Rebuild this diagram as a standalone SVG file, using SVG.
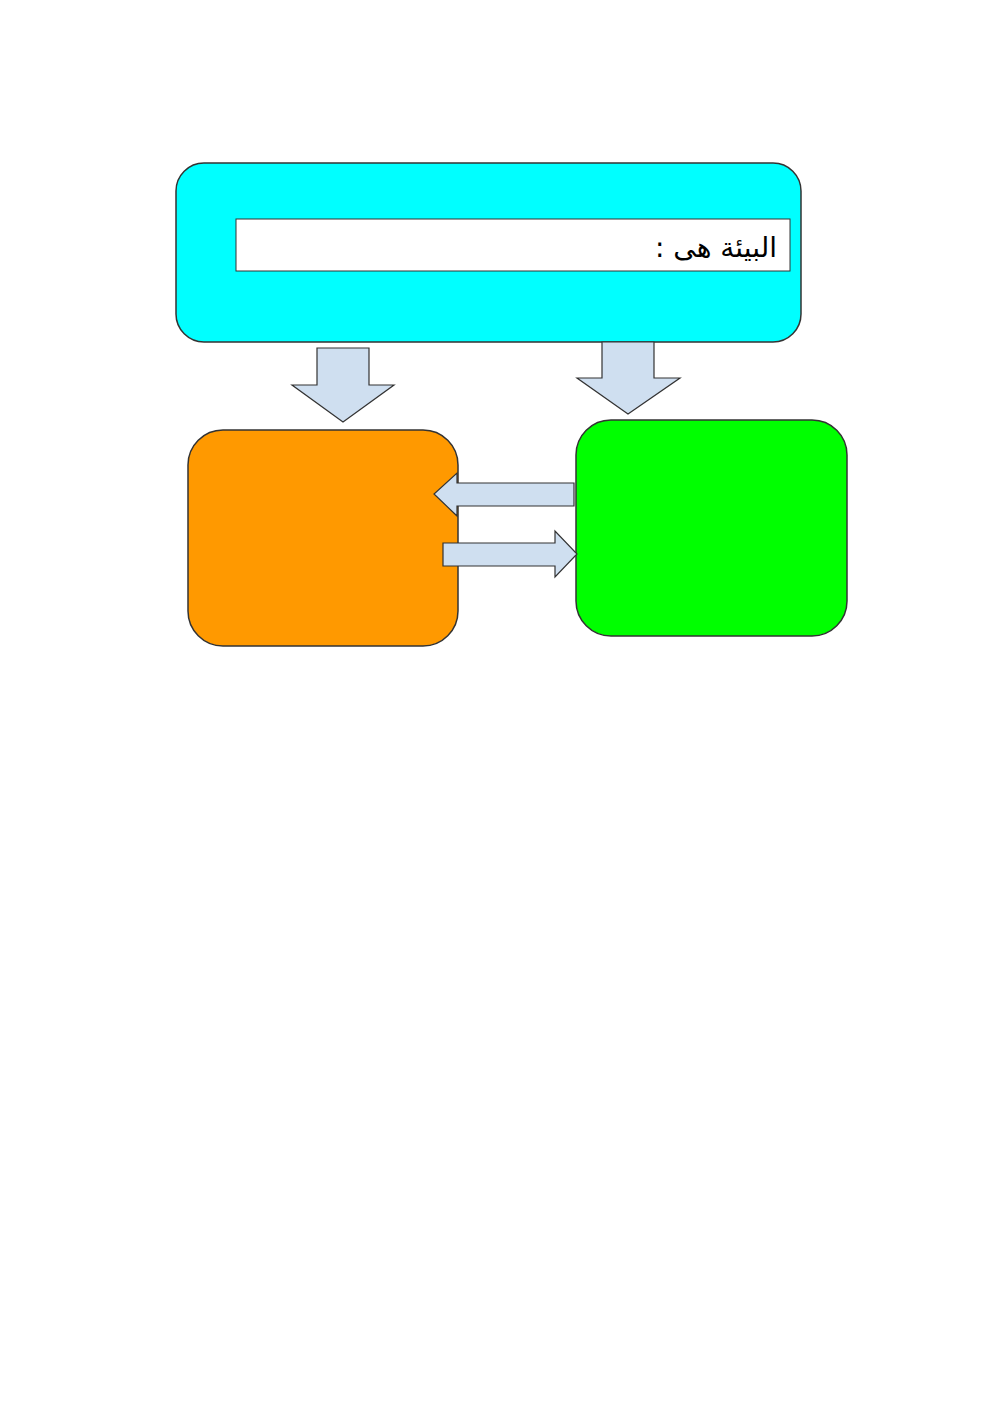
<svg xmlns="http://www.w3.org/2000/svg" width="1000" height="1413" viewBox="0 0 1000 1413">
<style>
.box{stroke:#333;stroke-width:1.5}
.arr{fill:#cfdff0;stroke:#333;stroke-width:1.2}
.lbl{font-family:"DejaVu Sans","Noto Sans",sans-serif;font-size:28px;fill:#000}
</style>
<rect width="1000" height="1413" fill="#fff"/>
<g id="top">
<rect class="box" x="176" y="163" width="625" height="179" rx="28" fill="#00ffff"/>
<rect x="236" y="219" width="554" height="52" fill="#fff" stroke="#333" stroke-width="1"/>
<text class="lbl" x="777" y="257" direction="rtl" unicode-bidi="embed" text-anchor="start">البيئة هى :</text>
</g>
<g id="left-box">
<rect class="box" x="188" y="430" width="270" height="216" rx="35" fill="#ff9900"/>
</g>
<g id="right-box">
<rect class="box" x="576" y="420" width="271" height="216" rx="35" fill="#00ff00"/>
</g>
<g id="connectors">
<polygon class="arr" points="317,348 369,348 369,385 394,385 343,422 292,385 317,385"/>
<polygon class="arr" points="602,342 654,342 654,378 680,378 628,414 577,378 602,378"/>
<polygon class="arr" points="574,483 574,506 457,506 457,516 434,494 457,473 457,483"/>
<polygon class="arr" points="443,543 555,543 555,531 577,554 555,577 555,566 443,566"/>
</g>
</svg>
